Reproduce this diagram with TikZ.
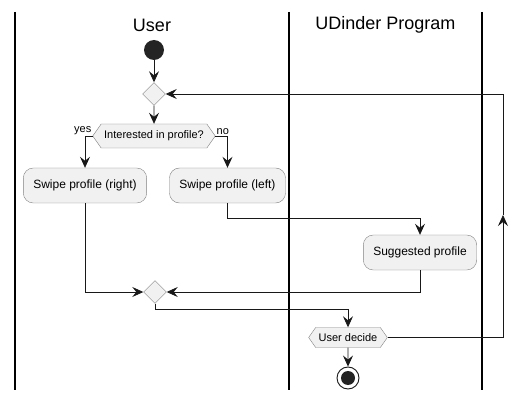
\documentclass[tikz,border=0pt]{standalone}
\usepackage{fontspec}
\setmainfont{Liberation Sans}
\usetikzlibrary{shapes.geometric}
\usetikzlibrary{shapes.symbols}
\usetikzlibrary{arrows.meta}
\definecolor{boxfill}{HTML}{F1F1F1}
\definecolor{boxline}{HTML}{181818}

\begin{document}
\begin{tikzpicture}[x=1pt, y=-1pt,
  action/.style={draw=boxline!55, fill=boxfill, rounded corners=10pt, minimum height=35pt, inner xsep=10pt, font=\fontsize{12}{14}\selectfont},
  choice/.style={signal, signal to=east and west, signal pointer angle=110, draw=boxline!55, fill=boxfill, inner xsep=3pt, inner ysep=0pt, font=\fontsize{11}{13}\selectfont},
  merge/.style={diamond, draw=boxline!55, fill=boxfill, minimum size=23pt, inner sep=0pt},
  flow/.style={-{Stealth[length=11pt,width=10pt,inset=4pt]}, draw=boxline, line width=0.8pt},
  lane/.style={line width=1.3pt},
  lanetitle/.style={font=\fontsize{18}{20}\selectfont}]
  \useasboundingbox (0,0) rectangle (528,401);
  % swimlanes
  \draw[lane] (15,12) -- (15,390);
  \draw[lane] (289,12) -- (289,390);
  \draw[lane] (482,12) -- (482,390);
  \node[lanetitle] (user) at (152,25) {User};
  \node[lanetitle] (prog) at (385.5,25) {UDinder Program};
  % activities
  \node[circle, fill=boxline!95, minimum size=20pt, inner sep=0pt] (start) at (154,50) {};
  \node[merge] (merge1) at (154,94) {};
  \node[choice, minimum height=24pt] (ask) at (154,136) {Interested in profile?};
  \node[action] (right) at (85,185.5) {Swipe profile (right)};
  \node[action] (left) at (227.5,185.5) {Swipe profile (left)};
  \node[action] (suggest) at (420,252.5) {Suggested profile};
  \node[merge] (merge2) at (155,292) {};
  \node[choice, minimum height=20pt] (decide) at (348,337.5) {User decide};
  \node[circle, draw=boxline, fill=white, line width=0.9pt, minimum size=22pt, inner sep=0pt,
    path picture={\fill[boxline!95] (path picture bounding box.center) circle (7pt);}] (stop) at (348,378) {};
  \node[anchor=south east, inner sep=1pt, font=\fontsize{11}{13}\selectfont] (lblyes) at (ask.west) {yes};
  \node[anchor=south west, inner sep=1pt, font=\fontsize{11}{13}\selectfont] (lblno) at (ask.east) {no};
  \coordinate (bend1) at (420,218);
  \coordinate (bend2) at (348,309);
  \coordinate (retmid) at (503,215);
  % connectors
  \draw[flow] (start) -- (merge1);
  \draw[flow] (merge1) -- (ask);
  \draw[flow] (ask.west) -| (right.north);
  \draw[flow] (ask.east) -| (left.north);
  \draw[flow] (left.south) |- (bend1) -- (suggest.north);
  \draw[flow] (right.south) |- (merge2.west);
  \draw[flow] (suggest.south) |- (merge2.east);
  \draw[flow] (merge2.south) |- (bend2) -- (decide.north);
  \draw[flow] (decide.east) -| (retmid);
  \draw[flow] (retmid) |- (merge1.east);
  \draw[flow] (decide) -- (stop);
\end{tikzpicture}
\end{document}
